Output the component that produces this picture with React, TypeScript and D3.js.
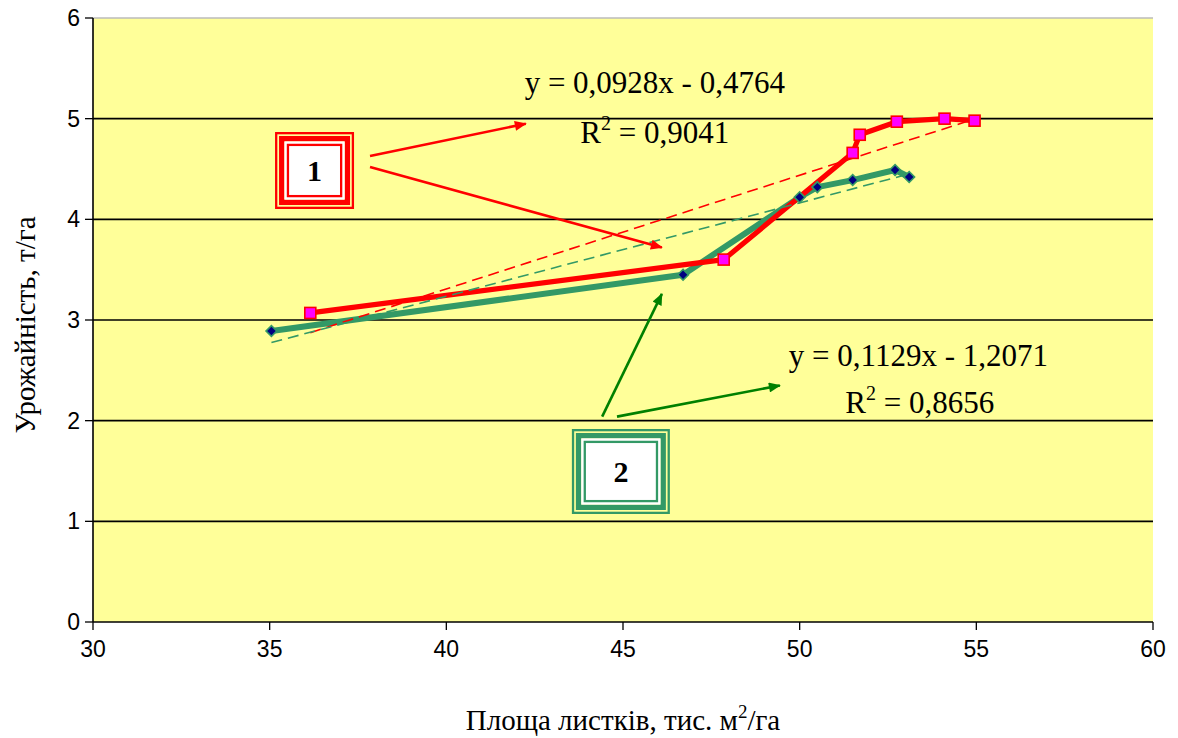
import React from 'react';
import * as d3 from 'd3';

// series 1 (red) and series 2 (green)
const area1 = [36.15, 47.85, 51.5, 51.7, 52.75, 54.1, 54.95];
const yield1 = [3.07, 3.6, 4.66, 4.84, 4.97, 5.0, 4.98];
const area2 = [35.05, 46.7, 50.0, 50.5, 51.5, 52.7, 53.1];
const yield2 = [2.89, 3.45, 4.22, 4.32, 4.39, 4.49, 4.42];

// linear trend coefficients [slope, intercept]
const trend1 = [0.1129, -1.2071];
const trend2 = [0.0928, -0.4764];

const xTicks = [30, 35, 40, 45, 50, 55, 60];
const yTicks = [0, 1, 2, 3, 4, 5, 6];

const eqLabels = ['y = 0,0928x - 0,4764', 'y = 0,1129x - 1,2071'];
const r2Labels = ['0,9041', '0,8656'];

const W = 1178;
const H = 738;
const margin = { top: 18, right: 25, bottom: 116, left: 93 };

const RED = '#ff0000';
const GREEN = '#339966';
const ARROW_GREEN = '#008000';

const serif = '"Liberation Serif", "Times New Roman", serif';
const sans = '"Liberation Sans", Arial, sans-serif';

type Pt = [number, number];

function Frame({ cx, cy, w, h, color, label }: { cx: number; cy: number; w: number; h: number; color: string; label: string }) {
  const x0 = cx - w / 2;
  const y0 = cy - h / 2;
  const r = (inset: number) => ({ x: x0 + inset, y: y0 + inset, width: w - inset * 2, height: h - inset * 2 });
  return (
    <g>
      <rect {...r(1.15)} fill="none" stroke={color} strokeWidth={2.3} />
      <rect {...r(6.7)} fill="none" stroke={color} strokeWidth={5.4} />
      <rect {...r(9.4)} fill="#ffffff" />
      <rect {...r(12.9)} fill="none" stroke={color} strokeWidth={2.3} />
      <text x={cx} y={cy + 10} textAnchor="middle" fontFamily={serif} fontWeight="bold" fontSize={30} fill="#000">
        {label}
      </text>
    </g>
  );
}

export default function App() {
  const iw = W - margin.left - margin.right;
  const ih = H - margin.top - margin.bottom;

  const x = d3.scaleLinear().domain([30, 60]).range([margin.left, margin.left + iw]);
  const y = d3.scaleLinear().domain([0, 6]).range([margin.top + ih, margin.top]);

  const line = d3
    .line<Pt>()
    .x((d) => x(d[0]))
    .y((d) => y(d[1]));

  const s1: Pt[] = area1.map((a, i) => [a, yield1[i]]);
  const s2: Pt[] = area2.map((a, i) => [a, yield2[i]]);

  const trendPts = (xs: number[], c: number[]): Pt[] => {
    const [lo, hi] = d3.extent(xs) as [number, number];
    return [
      [lo, c[0] * lo + c[1]],
      [hi, c[0] * hi + c[1]],
    ];
  };

  // annotation anchors, in data units
  const redArrows: [Pt, Pt][] = [
    [[37.84, 4.63], [42.25, 4.95]],
    [[37.84, 4.52], [46.1, 3.72]],
  ];
  const greenArrows: [Pt, Pt][] = [
    [[44.41, 2.04], [46.1, 3.26]],
    [[44.83, 2.04], [49.44, 2.35]],
  ];
  const eqPos: Pt[] = [[45.9, 5.255], [53.36, 2.543]];
  const r2Pos: Pt[] = [[45.9, 4.758], [53.4, 2.076]];

  return (
    <svg width={W} height={H} style={{ position: 'absolute', left: 0, top: 0, background: '#fff' }}>
      <defs>
        <marker id="ahRed" viewBox="0 0 12 10" refX="11" refY="5" markerWidth="13" markerHeight="10" markerUnits="userSpaceOnUse" orient="auto">
          <path d="M0,0 L12,5 L0,10 Z" fill={RED} />
        </marker>
        <marker id="ahGreen" viewBox="0 0 12 10" refX="11" refY="5" markerWidth="13" markerHeight="10" markerUnits="userSpaceOnUse" orient="auto">
          <path d="M0,0 L12,5 L0,10 Z" fill={ARROW_GREEN} />
        </marker>
      </defs>

      {/* plot area */}
      <rect x={margin.left} y={margin.top} width={iw} height={ih} fill="#ffff99" />
      <line x1={margin.left} x2={margin.left + iw} y1={margin.top} y2={margin.top} stroke="#bbbbbb" strokeWidth={1.5} />

      {/* gridlines */}
      {yTicks.slice(1, -1).map((t) => (
        <line key={t} x1={margin.left} x2={margin.left + iw} y1={y(t)} y2={y(t)} stroke="#000" strokeWidth={1.6} />
      ))}

      {/* axes */}
      <line x1={margin.left} x2={margin.left} y1={margin.top} y2={margin.top + ih} stroke="#000" strokeWidth={1.6} />
      <line x1={margin.left} x2={margin.left + iw} y1={y(0)} y2={y(0)} stroke="#000" strokeWidth={1.6} />
      {yTicks.map((t) => (
        <g key={t}>
          <line x1={margin.left - 8} x2={margin.left} y1={y(t)} y2={y(t)} stroke="#000" strokeWidth={1.3} />
          <text x={margin.left - 13} y={y(t) + 8} textAnchor="end" fontFamily={sans} fontSize={23}>
            {t}
          </text>
        </g>
      ))}
      {xTicks.map((t) => (
        <g key={t}>
          <line x1={x(t)} x2={x(t)} y1={y(0)} y2={y(0) + 8} stroke="#000" strokeWidth={1.3} />
          <text x={x(t)} y={y(0) + 19} textAnchor="middle" fontFamily={sans} fontSize={23} dy="0.71em">
            {t}
          </text>
        </g>
      ))}

      {/* axis titles */}
      <text
        transform={`translate(35,${margin.top + ih / 2 + 5}) rotate(-90)`}
        textAnchor="middle"
        fontFamily={serif}
        fontSize={29}
      >
        Урожайність, т/га
      </text>
      <text x={623} y={730} textAnchor="middle" fontFamily={serif} fontSize={29}>
        Площа листків, тис. м
        <tspan dy={-12} fontSize={19}>2</tspan>
        <tspan dy={12}>/га</tspan>
      </text>

      {/* series lines */}
      <path d={line(s2) ?? ''} fill="none" stroke={GREEN} strokeWidth={6} strokeLinejoin="round" />
      <path d={line(s1) ?? ''} fill="none" stroke={RED} strokeWidth={5.2} strokeLinejoin="round" />

      {/* trendlines */}
      <path d={line(trendPts(area1, trend1)) ?? ''} fill="none" stroke={RED} strokeWidth={1.6} strokeDasharray="11,6" />
      <path d={line(trendPts(area2, trend2)) ?? ''} fill="none" stroke={GREEN} strokeWidth={1.6} strokeDasharray="11,6" />

      {/* markers */}
      {s2.map((d, i) => (
        <rect
          key={i}
          x={-3.8}
          y={-3.8}
          width={7.6}
          height={7.6}
          transform={`translate(${x(d[0])},${y(d[1])}) rotate(45)`}
          fill="#000080"
          stroke={GREEN}
          strokeWidth={1.6}
        />
      ))}
      {s1.map((d, i) => (
        <rect key={i} x={x(d[0]) - 5.5} y={y(d[1]) - 5.5} width={11} height={11} fill="#ff00ff" stroke={RED} strokeWidth={1.6} />
      ))}

      {/* arrows */}
      {redArrows.map(([a, b], i) => (
        <line key={i} x1={x(a[0])} y1={y(a[1])} x2={x(b[0])} y2={y(b[1])} stroke={RED} strokeWidth={2.6} markerEnd="url(#ahRed)" />
      ))}
      {greenArrows.map(([a, b], i) => (
        <line key={i} x1={x(a[0])} y1={y(a[1])} x2={x(b[0])} y2={y(b[1])} stroke={ARROW_GREEN} strokeWidth={2.6} markerEnd="url(#ahGreen)" />
      ))}

      {/* equations */}
      {eqLabels.map((t, i) => (
        <text key={t} x={x(eqPos[i][0])} y={y(eqPos[i][1])} textAnchor="middle" fontFamily={serif} fontSize={31}>
          {t}
        </text>
      ))}
      {r2Labels.map((t, i) => (
        <text key={t} x={x(r2Pos[i][0])} y={y(r2Pos[i][1])} textAnchor="middle" fontFamily={serif} fontSize={31}>
          R<tspan dy={-13} fontSize={20}>2</tspan>
          <tspan dy={13}> = {t}</tspan>
        </text>
      ))}

      {/* series labels */}
      <Frame cx={x(36.27)} cy={y(4.485)} w={79} h={77} color={RED} label="1" />
      <Frame cx={x(44.94)} cy={y(1.495)} w={98} h={85} color={GREEN} label="2" />
    </svg>
  );
}
